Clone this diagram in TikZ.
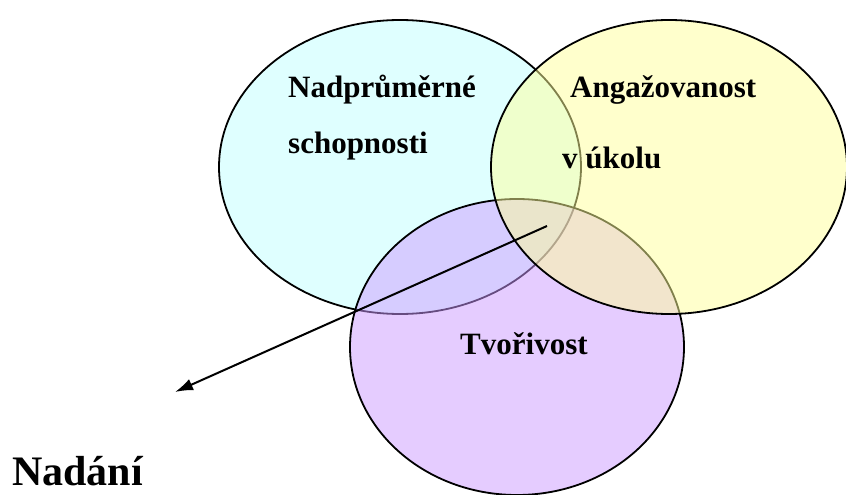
\documentclass[tikz,border=0pt]{standalone}
\usepackage{fontspec}
\setmainfont{Liberation Serif}
\usetikzlibrary{shapes.geometric,arrows.meta}

\definecolor{modra}{HTML}{C0FFFF}
\definecolor{zluta}{HTML}{FFFF99}
\definecolor{fialova}{HTML}{CC99FF}

\begin{document}
\begin{tikzpicture}[x=1pt,y=-1pt,
    kruh/.style={ellipse, draw, line width=1.8pt, fill opacity=0.5, inner sep=0pt},
    popis/.style={anchor=base west, inner sep=0pt, font=\bfseries\fontsize{31}{36}\selectfont}]
    \useasboundingbox (0,0) rectangle (846,495);
    \node [kruh, fill=modra, minimum width=362pt, minimum height=294pt] (schop) at (400,167) {};
    \node [kruh, fill=fialova, minimum width=334pt, minimum height=296pt] (tvor) at (517,347) {};
    \node [kruh, fill=zluta, minimum width=356pt, minimum height=294pt] (angaz) at (669,167) {};
    \node [popis] (t1) at (288,97) {Nadprůměrné};
    \node [popis] (t2) at (288,153) {schopnosti};
    \node [popis] (t3) at (570,97) {Angažovanost};
    \node [popis] (t4) at (562,168) {v úkolu};
    \node [popis] (t5) at (460,354) {Tvořivost};
    \node [anchor=base west, inner sep=0pt, font=\bfseries\fontsize{42}{48}\selectfont] (nadani) at (12,485) {Nadání};
    \coordinate (stred) at (547,226);
    \coordinate (hrot) at (175,392);
      \path[-{Latex[length=18pt,width=12pt]}, line width=2pt]
      (stred) edge (hrot)
      ;
  \end{tikzpicture}
\end{document}
